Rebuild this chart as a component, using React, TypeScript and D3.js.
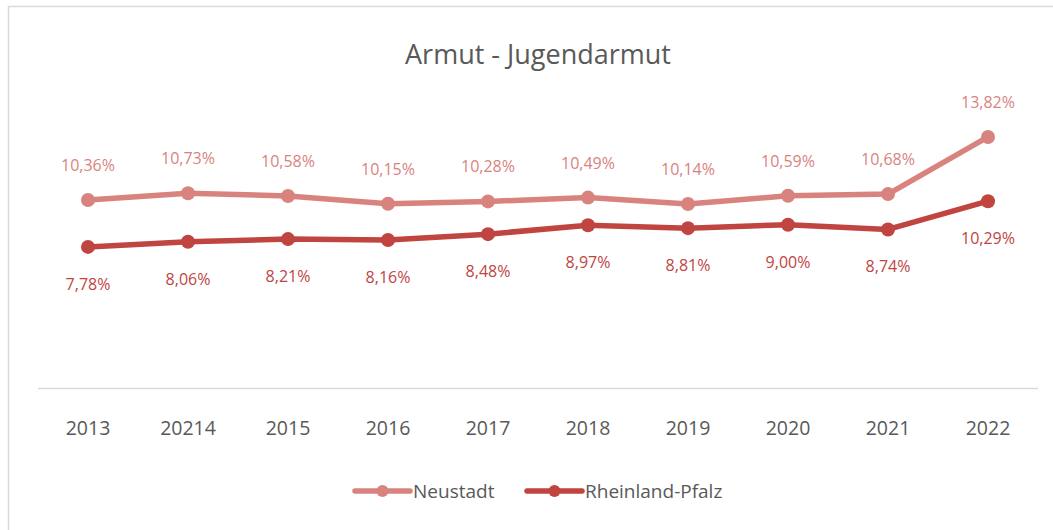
import React from "react";
import * as d3 from "d3";

const categories = ["2013", "20214", "2015", "2016", "2017", "2018", "2019", "2020", "2021", "2022"];
const neustadt = [10.36, 10.73, 10.58, 10.15, 10.28, 10.49, 10.14, 10.59, 10.68, 13.82];
const rlp = [7.78, 8.06, 8.21, 8.16, 8.48, 8.97, 8.81, 9.0, 8.74, 10.29];
const seriesNames = ["Neustadt", "Rheinland-Pfalz"];
const title = "Armut - Jugendarmut";

const W = 1053;
const H = 530;
const FONT = "'Open Sans', 'Noto Sans', sans-serif";
const C_NEU = "#d9837e";
const C_RLP = "#c0443f";
const TEXT = "#595959";

const fmt = (v: number) => v.toFixed(2).replace(".", ",") + "%";

export default function App() {
  const x = d3.scaleBand<string>().domain(categories).range([38, 1038]);
  const y = d3.scaleLinear().domain([0, 20]).range([388.5, 24.5]);
  const cx = (c: string) => (x(c) as number) + x.bandwidth() / 2;
  const line = d3
    .line<number>()
    .x((_, i) => cx(categories[i]))
    .y((d) => y(d));

  const series = [
    { name: seriesNames[0], values: neustadt, color: C_NEU, dy: -29 },
    { name: seriesNames[1], values: rlp, color: C_RLP, dy: 43 },
  ];

  const legend = [
    { name: seriesNames[0], color: C_NEU, x0: 355 },
    { name: seriesNames[1], color: C_RLP, x0: 527 },
  ];

  return (
    <svg
      width={W}
      height={H}
      style={{ position: "absolute", left: 0, top: 0, fontFamily: FONT }}
    >
      <rect x={0} y={0} width={W} height={H} fill="#fff" />
      <rect x={8.5} y={6.5} width={1100} height={600} fill="#fff" stroke="#d9d9d9" strokeWidth={1.5} />
      <text x={538} y={64} textAnchor="middle" fontSize={27} fill={TEXT}>
        {title}
      </text>
      <line x1={38} x2={1038} y1={388.5} y2={388.5} stroke="#d9d9d9" strokeWidth={1.5} />
      {categories.map((c) => (
        <text key={c} x={cx(c)} y={435} textAnchor="middle" fontSize={19.5} fill={TEXT}>
          {c}
        </text>
      ))}
      {series.map((s) => (
        <g key={s.name}>
          <path d={line(s.values) as string} fill="none" stroke={s.color} strokeWidth={5.5} strokeLinejoin="round" />
          {s.values.map((v, i) => (
            <circle key={i} cx={cx(categories[i])} cy={y(v)} r={7} fill={s.color} />
          ))}
          {s.values.map((v, i) => (
            <text
              key={"t" + i}
              x={cx(categories[i])}
              y={y(v) + s.dy}
              textAnchor="middle"
              fontSize={16}
              fill={s.color}
            >
              {fmt(v)}
            </text>
          ))}
        </g>
      ))}
      {legend.map((l) => (
        <g key={l.name}>
          <line x1={l.x0} x2={l.x0 + 55} y1={491} y2={491} stroke={l.color} strokeWidth={5.5} strokeLinecap="round" />
          <circle cx={l.x0 + 27.5} cy={491} r={6} fill={l.color} />
          <text x={l.x0 + 58} y={497.5} fontSize={19} fill={TEXT}>
            {l.name}
          </text>
        </g>
      ))}
    </svg>
  );
}
